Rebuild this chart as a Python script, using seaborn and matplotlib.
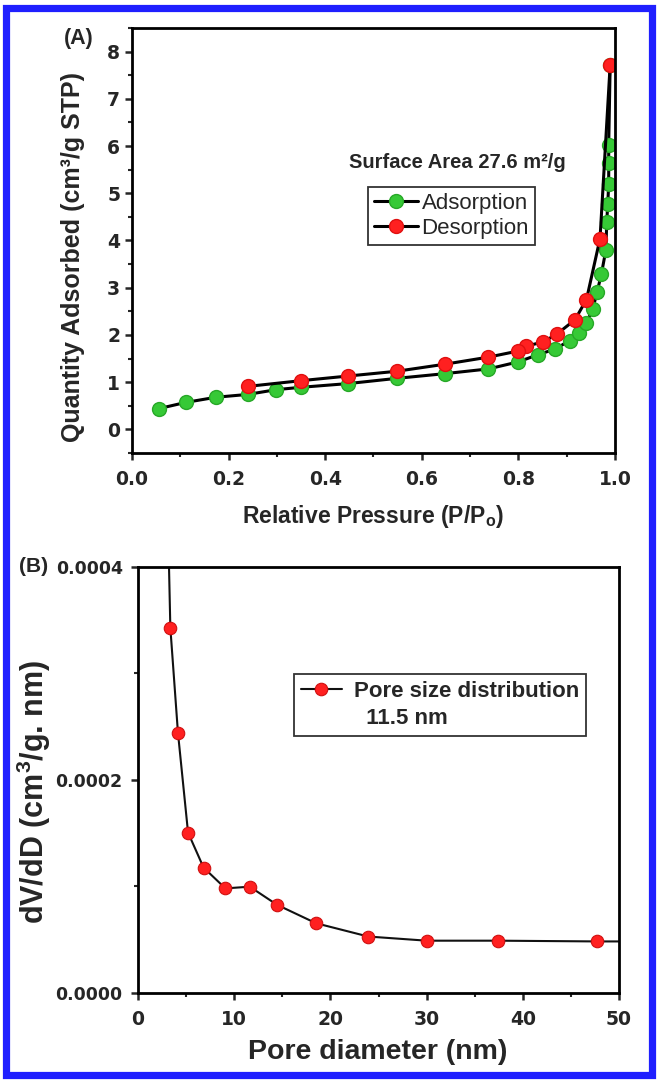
import matplotlib
matplotlib.use('Agg')
import matplotlib.pyplot as plt
import seaborn as sns
from matplotlib.patches import Rectangle
from matplotlib.lines import Line2D
from matplotlib.ticker import MultipleLocator, FormatStrFormatter

# (A) N2 吸附/脱附等温线
ads_p = [0.056, 0.111, 0.174, 0.240, 0.298, 0.349, 0.448, 0.548, 0.648, 0.738, 0.800,
         0.840, 0.876, 0.906, 0.926, 0.941, 0.954, 0.963, 0.972, 0.981, 0.983, 0.985,
         0.987, 0.987, 0.987, 0.990]
ads_q = [0.44, 0.57, 0.68, 0.74, 0.84, 0.89, 0.97, 1.08, 1.18, 1.28, 1.43,
         1.58, 1.70, 1.88, 2.04, 2.26, 2.55, 2.91, 3.30, 3.79, 4.40, 4.77,
         5.20, 5.64, 6.03, 7.72]
des_p = [0.990, 0.969, 0.941, 0.917, 0.880, 0.851, 0.815, 0.800, 0.738, 0.648,
         0.548, 0.448, 0.349, 0.240]
des_q = [7.72, 4.04, 2.75, 2.32, 2.02, 1.85, 1.76, 1.66, 1.53, 1.38,
         1.23, 1.13, 1.03, 0.91]

# (B) 孔径分布 (首尾两点只画线, 不画点)
pore_d = [3.10, 3.36, 4.15, 5.20, 6.81, 9.08, 11.62, 14.45, 18.5, 23.93, 30.0, 37.4, 47.7, 50.0]
dvdd = [0.00045, 0.000343, 0.0002445, 0.0001506, 0.0001178, 0.0000982, 0.0000998,
        0.0000828, 0.0000655, 0.0000530, 0.0000491, 0.0000491, 0.0000484, 0.0000484]
pore_marked = list(range(1, 13))

x_ticks_a = [0.0, 0.2, 0.4, 0.6, 0.8, 1.0]
y_ticks_a = [0, 1, 2, 3, 4, 5, 6, 7, 8]
x_ticks_b = [0, 10, 20, 30, 40, 50]
y_ticks_b = [0.0, 0.0002, 0.0004]

sns.set_style('ticks')
plt.rcParams['font.family'] = ['Liberation Sans', 'DejaVu Sans']
plt.rcParams['font.weight'] = 'bold'
plt.rcParams['axes.labelweight'] = 'bold'
plt.rcParams['mathtext.fontset'] = 'custom'
plt.rcParams['mathtext.rm'] = 'Liberation Sans:bold'
plt.rcParams['mathtext.bf'] = 'Liberation Sans:bold'
plt.rcParams['mathtext.it'] = 'Liberation Sans:bold'

GREEN = '#36c936'
RED = '#ff2020'

fig = plt.figure(figsize=(6.61, 10.87), dpi=100)
ax1 = fig.add_axes([0.1997, 0.5833, 0.7307, 0.3909])
ax2 = fig.add_axes([0.2088, 0.0865, 0.7277, 0.3919])

# ---- 图 A ----
sns.lineplot(x=ads_p, y=ads_q, ax=ax1, sort=False, estimator=None, color='black',
             linewidth=2.2, marker='o', markersize=10, markerfacecolor=GREEN,
             markeredgecolor='#27a827', markeredgewidth=1.0, label='Adsorption')
sns.lineplot(x=des_p, y=des_q, ax=ax1, sort=False, estimator=None, color='black',
             linewidth=2.2, marker='o', markersize=10, markerfacecolor=RED,
             markeredgecolor='#e01010', markeredgewidth=1.0, label='Desorption')

ax1.set_xlim(0, 1.0)
ax1.set_ylim(-0.5, 8.5)
ax1.set_xticks(x_ticks_a)
ax1.set_yticks(y_ticks_a)
ax1.xaxis.set_minor_locator(MultipleLocator(0.1))
ax1.yaxis.set_minor_locator(MultipleLocator(0.5))
ax1.xaxis.set_major_formatter(FormatStrFormatter('%.1f'))

ax1.set_xlabel(r'Relative Pressure (P/P$_\mathrm{o}$)', fontsize=16.5)
ax1.set_ylabel('Quantity Adsorbed (cm³/g STP)', fontsize=18)
ax1.xaxis.set_label_coords(0.5, -0.118)
ax1.yaxis.set_label_coords(-0.097, 0.46)

ax1.text(0.673, 5.65, 'Surface Area 27.6 m²/g', fontsize=14.5, fontweight='bold',
         ha='center', va='center')

h, l = ax1.get_legend_handles_labels()
leg = ax1.legend(h, l, loc='upper left', bbox_to_anchor=(0.489, 0.626), borderaxespad=0,
                 prop={'family': 'Liberation Sans', 'weight': 'normal', 'size': 16},
                 frameon=True, fancybox=False, edgecolor='#333333', framealpha=1,
                 handlelength=2.0, handletextpad=0.15, borderpad=0.25, labelspacing=0.2)
leg.get_frame().set_linewidth(1.3)

ax1.text(-0.079, 1.0, '(A)', transform=ax1.transAxes, fontsize=15.5, fontweight='bold',
         ha='right', va='top')

# ---- 图 B ----
sns.lineplot(x=pore_d, y=dvdd, ax=ax2, sort=False, estimator=None, color='#111111',
             linewidth=1.5, marker='o', markersize=9, markevery=pore_marked,
             markerfacecolor=RED, markeredgecolor='#d01010', markeredgewidth=0.8,
             label='Pore size distribution')

ax2.set_xlim(0, 50)
ax2.set_ylim(0, 0.0004)
ax2.set_xticks(x_ticks_b)
ax2.set_yticks(y_ticks_b)
ax2.xaxis.set_minor_locator(MultipleLocator(5))
ax2.yaxis.set_minor_locator(MultipleLocator(0.0001))
ax2.yaxis.set_major_formatter(FormatStrFormatter('%.4f'))

ax2.set_xlabel('Pore diameter (nm)', fontsize=20.5)
ax2.set_ylabel(r'dV/dD (cm$^\mathrm{3}$/g. nm)', fontsize=22)
ax2.xaxis.set_label_coords(0.498, -0.108)
ax2.yaxis.set_label_coords(-0.176, 0.473)

h, l = ax2.get_legend_handles_labels()
h.append(Line2D([], [], linestyle='none'))
l.append('  11.5 nm')
leg2 = ax2.legend(h, l, loc='upper left', bbox_to_anchor=(0.324, 0.749), borderaxespad=0,
                  prop={'family': 'Liberation Sans', 'weight': 'bold', 'size': 16},
                  frameon=True, fancybox=False, edgecolor='#333333', framealpha=1,
                  handlelength=1.85, handletextpad=0.55, borderpad=0.3, labelspacing=0.3)
leg2.get_frame().set_linewidth(1.3)

ax2.text(-0.186, 1.0, '(B)', transform=ax2.transAxes, fontsize=15, fontweight='bold',
         ha='right', va='center')

# 坐标轴样式
for ax, ypad, xpad, lsize in [(ax1, 3.5, 7, 13.5), (ax2, 6, 7, 12.5)]:
    for sp in ax.spines.values():
        sp.set_linewidth(2.0)
        sp.set_color('black')
    ax.tick_params(which='major', direction='out', length=5, width=1.8,
                   labelsize=lsize, labelfontfamily='DejaVu Sans')
    ax.tick_params(which='minor', direction='out', length=3, width=1.5)
    ax.tick_params(axis='y', which='major', pad=ypad)
    ax.tick_params(axis='x', which='major', pad=xpad)
    ax.tick_params(top=False, right=False, which='both')
    for t in ax.get_xticklabels() + ax.get_yticklabels():
        t.set_fontweight('bold')
ax2.tick_params(axis='x', labelsize=13.5)

# 蓝色边框
fig.patches.append(Rectangle((0.0098, 0.011), 0.977, 0.9816, transform=fig.transFigure,
                             fill=False, edgecolor='#1f1fff', linewidth=5.2))

fig.savefig('out.png', dpi=100)
